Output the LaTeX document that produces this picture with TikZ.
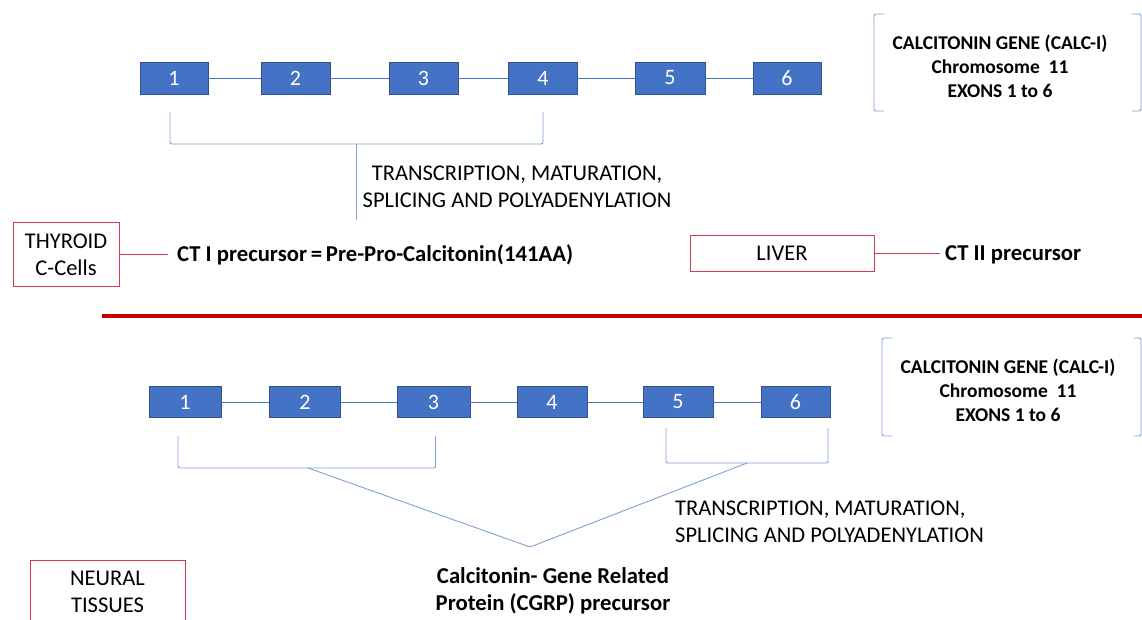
\documentclass[tikz,border=0pt]{standalone}
\usepackage{fontspec}
\setmainfont{Carlito}
\usetikzlibrary{calc}
\definecolor{exonblue}{HTML}{4472C4}
\definecolor{exonedge}{HTML}{2F528F}
\definecolor{brk}{HTML}{7F9FD4}
\definecolor{tissue}{HTML}{D23A4A}
\definecolor{sepred}{HTML}{C00000}
\begin{document}
\begin{tikzpicture}[x=1pt,y=-1pt,
  exon/.style={draw=exonedge,fill=exonblue,text=white,minimum height=32,inner sep=0,font=\fontsize{22}{26}\selectfont},
  conn/.style={draw=exonblue,line width=0.8pt},
  bracketline/.style={draw=brk,line width=0.9pt,rounded corners=2},
  tissuebox/.style={draw=tissue,line width=0.9pt,align=center,inner sep=0,font=\fontsize{22.5}{27}\selectfont},
  tissueline/.style={draw=tissue,line width=0.9pt},
  proc/.style={align=center,inner sep=0,font=\fontsize{22.5}{27}\selectfont},
  gene/.style={align=center,inner sep=0,font=\fontsize{19.5}{24}\selectfont\bfseries},
  prod/.style={inner sep=0,font=\fontsize{22.7}{27}\selectfont\bfseries}]
\useasboundingbox (0,0) rectangle (1142,619);
\fill[white] (0,0) rectangle (1142,619);

% ---------- top gene ----------
\node[exon,minimum width=68] (e1) at (174,78) {1};
\node[exon,minimum width=69] (e2) at (295.5,78) {2};
\node[exon,minimum width=69] (e3) at (423.5,78) {3};
\node[exon,minimum width=69] (e4) at (543,78) {4};
\node[exon,minimum width=70] (e5) at (670,78) {5};
\node[exon,minimum width=68] (e6) at (787,78) {6};
\draw[conn] (e1) -- (e2);
\draw[conn] (e2) -- (e3);
\draw[conn] (e3) -- (e4);
\draw[conn] (e4) -- (e5);
\draw[conn] (e5) -- (e6);

\coordinate (ta) at (170,112);
\coordinate (tb) at (543,112);
\coordinate (tm) at (356.5,144);
\coordinate (tv) at (356.5,220);
\draw[bracketline] (ta) -- (170,144) -- (543,144) -- (tb);
\draw[bracketline] (tm) -- (tv);

\node[proc] (tproc) at (517,187) {TRANSCRIPTION, MATURATION,\\SPLICING AND POLYADENYLATION};

\coordinate (g1a) at (884,14);
\coordinate (g1b) at (1132,14);
\draw[bracketline] (g1a) -- (874,14) -- (874,111) -- (884,111);
\draw[bracketline] (g1b) -- (1141,14) -- (1141,111) -- (1132,111);
\node[gene] (gene1) at (1000,66) {CALCITONIN\ GENE\ (CALC-I)\\Chromosome\ \ 11\\EXONS 1 to 6};

\node[tissuebox,minimum width=106,minimum height=64] (thy) at (66,254.5) {THYROID\\C-Cells};
\node[prod,anchor=west] (ct1) at (177,255) {CT I precursor\,=\,Pre-Pro-Calcitonin(141AA)};
\draw[tissueline] (thy.east) -- ($(ct1.west |- thy.east)+(-9,0)$);

\node[tissuebox,minimum width=184,minimum height=36] (liv) at (782,253.5) {LIVER};
\node[prod,anchor=west] (ct2) at (945,255) {CT II precursor};
\draw[tissueline] (liv.east) -- ($(ct2.west |- liv.east)+(-5,0)$);

% ---------- separator ----------
\coordinate (sa) at (102,316);
\coordinate (sb) at (1142,316);
\draw[sepred,line width=4.5pt] (sa) -- (sb);

% ---------- bottom gene ----------
\node[exon,minimum width=72,minimum height=31] (f1) at (185,402) {1};
\node[exon,minimum width=71,minimum height=31] (f2) at (305,402) {2};
\node[exon,minimum width=73,minimum height=31] (f3) at (433.5,402) {3};
\node[exon,minimum width=70,minimum height=31] (f4) at (552,402) {4};
\node[exon,minimum width=70,minimum height=31] (f5) at (678,402) {5};
\node[exon,minimum width=69,minimum height=31] (f6) at (795.5,402) {6};
\draw[conn] (f1) -- (f2);
\draw[conn] (f2) -- (f3);
\draw[conn] (f3) -- (f4);
\draw[conn] (f4) -- (f5);
\draw[conn] (f5) -- (f6);

\coordinate (vtx) at (530,547);
\draw[bracketline] (178,436) -- (178,468) -- (435.5,468) -- (435.5,436);
\draw[bracketline] (666,428) -- (666,463) -- (828,463) -- (828,428);
\draw[bracketline] (308,468) -- (vtx) -- (747,463);

\node[proc,align=left,anchor=west] (bproc) at (675,522) {TRANSCRIPTION, MATURATION,\\SPLICING AND POLYADENYLATION};

\draw[bracketline] (892,338) -- (882,338) -- (882,436) -- (892,436);
\draw[bracketline] (1134,338) -- (1141,338) -- (1141,436) -- (1134,436);
\node[gene] (gene2) at (1008,390) {CALCITONIN\ GENE\ (CALC-I)\\Chromosome\ \ 11\\EXONS 1 to 6};

\node[prod,align=center] (cgrp) at (553,591) {Calcitonin- Gene Related\\Protein (CGRP) precursor};

\node[tissuebox,minimum width=155,minimum height=63,anchor=north] (neur) at (107.5,560) {NEURAL\\TISSUES};
\end{tikzpicture}
\end{document}
